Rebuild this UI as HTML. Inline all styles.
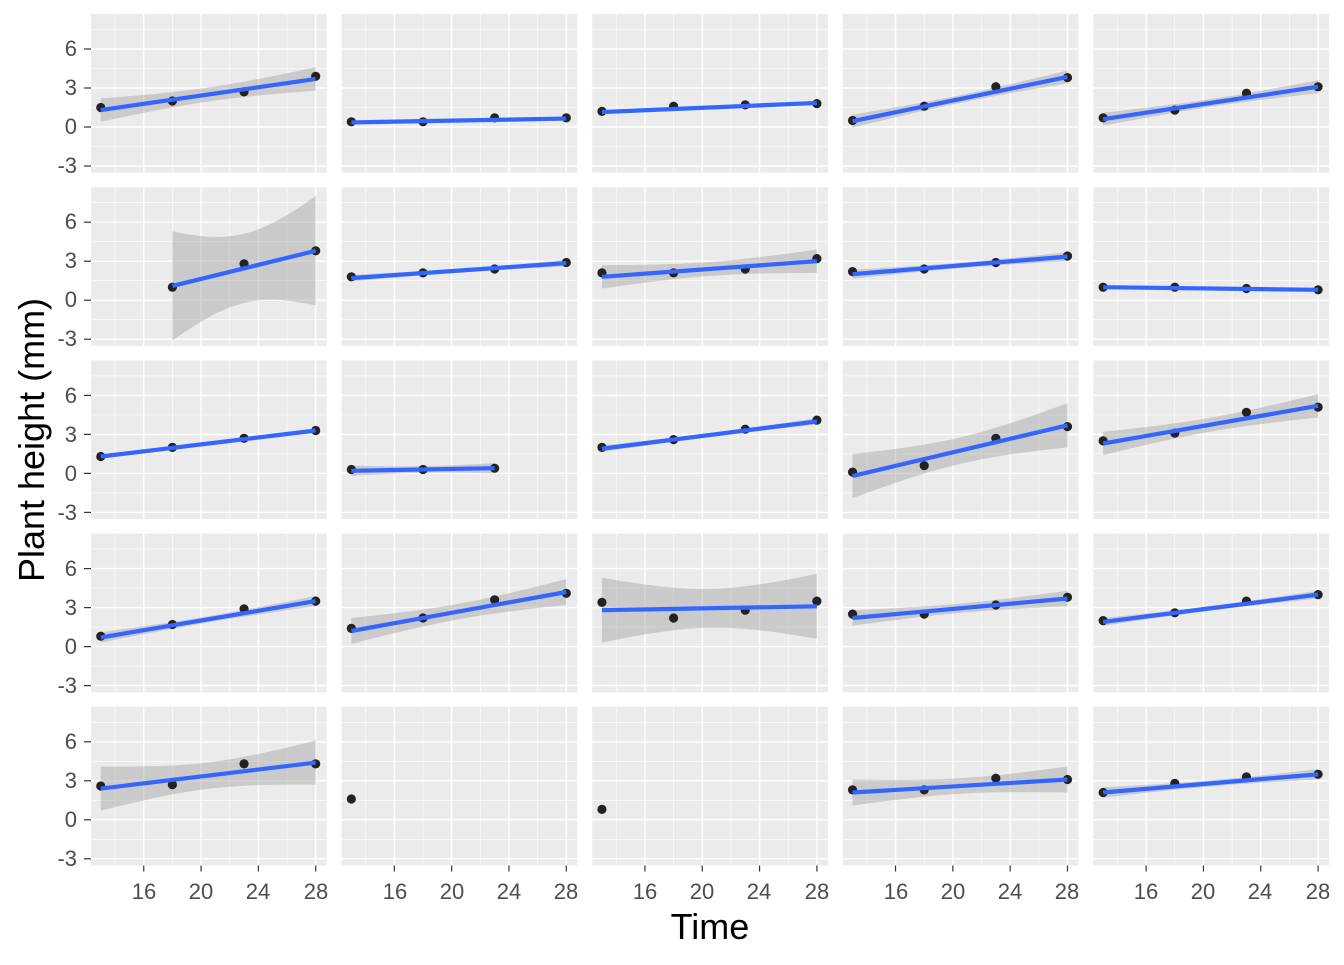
<!DOCTYPE html>
<html><head><meta charset="utf-8"><style>
body{margin:0;background:#fff}
svg text{font-family:"Liberation Sans",sans-serif}
.t{font-size:22px;fill:#4d4d4d}
</style></head><body>
<svg id="s" width="1344" height="960" viewBox="0 0 1344 960" xmlns="http://www.w3.org/2000/svg">
<g id="panels"></g>
<g class="t" text-anchor="end">
<text x="77" y="56">6</text><text x="77" y="95">3</text><text x="77" y="134">0</text><text x="77" y="173">-3</text>
<text x="77" y="229">6</text><text x="77" y="268">3</text><text x="77" y="307">0</text><text x="77" y="346">-3</text>
<text x="77" y="403">6</text><text x="77" y="442">3</text><text x="77" y="481">0</text><text x="77" y="520">-3</text>
<text x="77" y="576">6</text><text x="77" y="615">3</text><text x="77" y="654">0</text><text x="77" y="693">-3</text>
<text x="77" y="749">6</text><text x="77" y="788">3</text><text x="77" y="827">0</text><text x="77" y="866">-3</text>
</g>
<g class="t" text-anchor="middle">
<text x="144" y="899">16</text><text x="201" y="899">20</text><text x="258" y="899">24</text><text x="316" y="899">28</text>
<text x="395" y="899">16</text><text x="452" y="899">20</text><text x="509" y="899">24</text><text x="566" y="899">28</text>
<text x="645" y="899">16</text><text x="702" y="899">20</text><text x="759" y="899">24</text><text x="817" y="899">28</text>
<text x="896" y="899">16</text><text x="953" y="899">20</text><text x="1010" y="899">24</text><text x="1067" y="899">28</text>
<text x="1146" y="899">16</text><text x="1203" y="899">20</text><text x="1260" y="899">24</text><text x="1318" y="899">28</text>
</g>
<text x="710" y="939" font-size="36" text-anchor="middle" fill="#000">Time</text>
<text transform="translate(44,440) rotate(-90)" font-size="36" text-anchor="middle" fill="#000">Plant height (mm)</text>
</svg>
<script>
(function(){
var NS="http://www.w3.org/2000/svg",G=document.getElementById("panels");
function el(t,a){var e=document.createElementNS(NS,t);for(var k in a)e.setAttribute(k,a[k]);G.appendChild(e);return e;}
var X0=12.32,SX=14.33,W=235.7,H=158.7;
var D=[
[[1.5,2.0,2.7,3.9],1.3,3.7,0.9],[[0.4,0.4,0.7,0.7],0.35,0.65,0.15],[[1.2,1.6,1.7,1.8],1.15,1.85,0.15],[[0.5,1.6,3.1,3.8],0.45,3.85,0.5],[[0.7,1.3,2.6,3.1],0.6,3.1,0.5],
[[null,1.0,2.8,3.8],1.1,3.8,4.2],[[1.8,2.1,2.4,2.9],1.7,2.85,0.25],[[2.1,2.1,2.4,3.2],1.8,3.0,0.9],[[2.2,2.4,2.9,3.4],2.0,3.35,0.35],[[1.0,1.0,0.9,0.8],1.0,0.8,0.12],
[[1.3,2.0,2.7,3.3],1.3,3.3,0.15],[[0.3,0.3,0.4,null],0.2,0.4,0.4],[[2.0,2.6,3.4,4.1],1.9,4.0,0.25],[[0.1,0.6,2.7,3.6],-0.2,3.7,1.7],[[2.5,3.1,4.7,5.1],2.3,5.2,0.9],
[[0.8,1.7,2.9,3.5],0.7,3.5,0.4],[[1.4,2.2,3.6,4.1],1.2,4.2,1.0],[[3.4,2.2,2.8,3.5],2.8,3.1,2.5],[[2.5,2.5,3.2,3.8],2.2,3.7,0.6],[[2.0,2.6,3.5,4.0],1.9,4.0,0.3],
[[2.6,2.7,4.3,4.3],2.4,4.4,1.7],[[1.6,null,null,null]],[[0.8,null,null,null]],[[2.3,2.3,3.2,3.1],2.1,3.1,1.0],[[2.1,2.8,3.3,3.5],2.1,3.5,0.4]
];
var XS=[13,18,23,28];
for(var r=0;r<5;r++)for(var c=0;c<5;c++){
 var L=91+c*250.6,T=14+r*173.2,Z=T+113;
 var px=function(x){return L+(x-X0)*SX},py=function(y){return Z-y*13};
 el("rect",{x:L,y:T,width:W,height:H,fill:"#EBEBEB"});
 [14,18,22,26].forEach(function(x){el("line",{x1:px(x),x2:px(x),y1:T,y2:T+H,stroke:"#fff","stroke-width":0.6})});
 [-1.5,1.5,4.5,7.5].forEach(function(y){el("line",{x1:L,x2:L+W,y1:py(y),y2:py(y),stroke:"#fff","stroke-width":0.6})});
 [16,20,24,28].forEach(function(x){el("line",{x1:px(x),x2:px(x),y1:T,y2:T+H,stroke:"#fff","stroke-width":1.4})});
 [-3,0,3,6].forEach(function(y){el("line",{x1:L,x2:L+W,y1:py(y),y2:py(y),stroke:"#fff","stroke-width":1.4});
   if(c==0)el("line",{x1:84,x2:91,y1:py(y),y2:py(y),stroke:"#333","stroke-width":1.2});});
 if(r==4)[16,20,24,28].forEach(function(x){el("line",{x1:px(x),x2:px(x),y1:T+H,y2:T+H+6,stroke:"#333","stroke-width":1.2})});
 var d=D[r*5+c],ys=d[0],xs=[],yv=[];
 for(var i=0;i<4;i++)if(ys[i]!==null){xs.push(XS[i]);yv.push(ys[i]);}
 if(xs.length>1){
  var n=xs.length,m=xs.reduce(function(a,b){return a+b})/n,S=0;xs.forEach(function(x){S+=(x-m)*(x-m)});
  var x0=xs[0],x1=xs[n-1],e0=Math.sqrt(1/n+(x0-m)*(x0-m)/S),up=[],dn=[];
  for(var k=0;k<=30;k++){var x=x0+(x1-x0)*k/30,y=d[1]+(d[2]-d[1])*(x-x0)/(x1-x0),h=d[3]*Math.sqrt(1/n+(x-m)*(x-m)/S)/e0;
   up.push(px(x).toFixed(1)+","+py(y+h).toFixed(1));dn.unshift(px(x).toFixed(1)+","+py(y-h).toFixed(1));}
  el("polygon",{points:up.concat(dn).join(" "),fill:"#999","fill-opacity":0.4});
 }
 for(var i=0;i<xs.length;i++)el("circle",{cx:px(xs[i]),cy:py(yv[i]),r:4.6,fill:"#222"});
 if(xs.length>1)el("line",{x1:px(xs[0]),y1:py(d[1]),x2:px(xs[xs.length-1]),y2:py(d[2]),stroke:"#3366FF","stroke-width":4.2});
}
})();
</script>
</body></html>
